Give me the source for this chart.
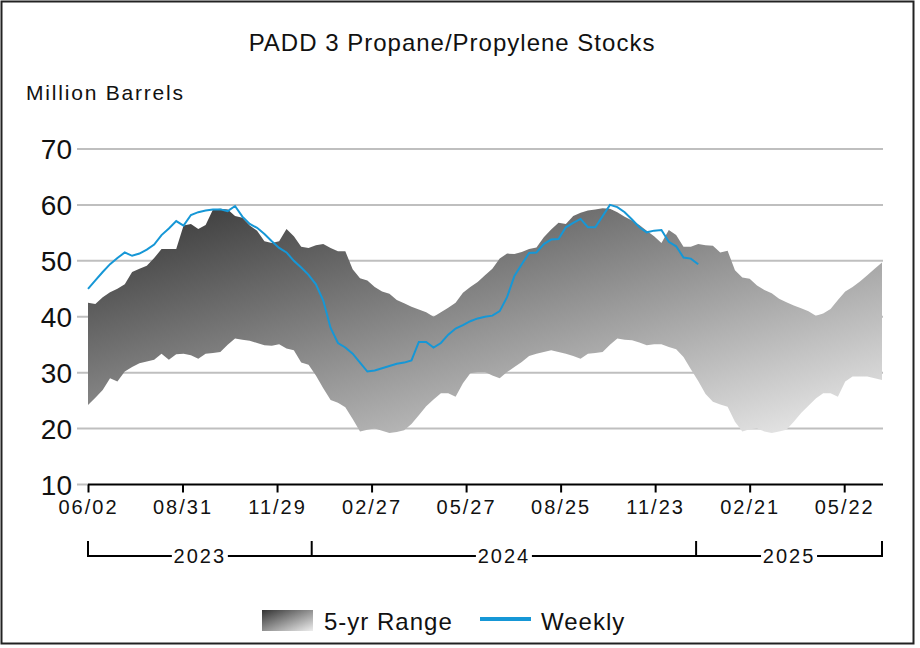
<!DOCTYPE html>
<html>
<head>
<meta charset="utf-8">
<script src="https://cdn.jsdelivr.net/npm/d3@7"></script>
<style>
  html, body { margin: 0; padding: 0; background: #fff; }
  text { font-family: "Liberation Sans", Arial, sans-serif; fill: #111; }
</style>
</head>
<body>
<div id="chart"></div>
<script>
// weekly dates start on this Friday
const firstWeek = "2023-06-02";
const lastWeek = "2025-06-27";

// 5-yr range, upper edge (million barrels), one value per week
const rangeHigh = [
  42.5, 42.3, 43.5, 44.4, 45.0, 45.8, 48.0, 48.6, 49.1, 50.5,
  52.1, 52.1, 52.1, 56.3, 56.6, 55.7, 56.4, 59.2, 59.3, 59.2,
  58.0, 57.7, 56.3, 55.4, 53.5, 53.2, 53.5, 55.7, 54.4, 52.5,
  52.3, 52.8, 53.0, 52.3, 51.7, 51.7, 48.5, 46.9, 46.5, 45.3,
  44.5, 44.1, 43.0, 42.4, 41.8, 41.3, 40.8, 40.0, 40.8, 41.6,
  42.5, 44.3, 45.3, 46.2, 47.4, 48.6, 50.4, 51.3, 51.2, 51.6,
  52.1, 52.4, 54.2, 55.6, 56.8, 56.6, 58.0, 58.6, 59.0, 59.2,
  59.4, 59.3, 58.7, 57.9, 57.2, 56.4, 55.4, 54.4, 53.2, 55.5,
  54.6, 52.5, 52.5, 53.0, 52.8, 52.7, 51.5, 51.8, 48.3, 47.0,
  46.8, 45.6, 44.8, 44.2, 43.2, 42.6, 42.0, 41.5, 41.0, 40.2,
  40.6, 41.4, 43.0, 44.5, 45.3, 46.3, 47.4, 48.6, 49.7
];

// 5-yr range, lower edge
const rangeLow = [
  24.2, 25.5, 26.9, 29.0, 28.4, 30.2, 31.0, 31.7, 32.0, 32.3,
  33.4, 32.3, 33.3, 33.4, 33.1, 32.5, 33.4, 33.5, 33.7, 35.0,
  36.1, 35.9, 35.7, 35.3, 34.9, 34.8, 35.1, 34.3, 34.0, 31.8,
  31.4, 29.5, 27.2, 25.1, 24.6, 23.8, 21.7, 19.5, 19.8, 20.0,
  19.6, 19.2, 19.4, 19.7, 20.8, 22.4, 24.0, 25.2, 26.3, 26.3,
  25.7, 28.1, 29.9, 30.1, 30.1, 29.5, 29.0, 30.1, 31.0, 31.9,
  33.0, 33.4, 33.7, 34.0, 33.7, 33.4, 33.0, 32.5, 33.4, 33.5,
  33.7, 35.0, 36.1, 35.9, 35.8, 35.4, 34.9, 35.1, 35.1, 34.6,
  34.2, 32.8, 30.6, 28.5, 26.2, 24.8, 24.3, 23.9, 21.2, 19.5,
  19.9, 20.0, 19.5, 19.2, 19.5, 19.8, 21.2, 22.8, 24.1, 25.4,
  26.3, 26.3, 25.7, 28.4, 29.3, 29.3, 29.3, 29.0, 28.7
];

// weekly stocks, 2023-06-02 .. 2025-01-03
const weekly = [
  45.0, 46.5, 48.0, 49.4, 50.5, 51.5, 50.9, 51.3, 52.0, 52.9,
  54.6, 55.8, 57.1, 56.3, 58.2, 58.7, 59.0, 59.2, 59.2, 58.9,
  59.8, 57.9, 56.6, 55.9, 54.8, 53.5, 52.3, 51.5, 50.0, 48.8,
  47.5, 45.8, 42.9, 38.0, 35.3, 34.5, 33.4, 31.8, 30.2, 30.4,
  30.8, 31.2, 31.6, 31.8, 32.2, 35.5, 35.5, 34.5, 35.3, 36.8,
  37.9, 38.5, 39.2, 39.7, 40.0, 40.2, 41.0, 43.5, 47.3, 49.4,
  51.4, 51.5, 53.0, 53.8, 53.9, 56.0, 56.8, 57.5, 56.0, 56.0,
  58.0, 60.0, 59.6, 58.7, 57.4, 56.0, 55.1, 55.4, 55.5, 53.4,
  52.6, 50.6, 50.4, 49.4
];

const yTicks = [10, 20, 30, 40, 50, 60, 70];
const xTicks = [
  "2023-06-02", "2023-08-31", "2023-11-29", "2024-02-27", "2024-05-27",
  "2024-08-25", "2024-11-23", "2025-02-21", "2025-05-22"
];
const yearBounds = ["2023-06-02", "2024-01-01", "2025-01-01", "2025-06-27"];
const yearLabels = ["2023", "2024", "2025"];

const W = 920, H = 648;
const plot = { left: 88, right: 882, top: 149, bottom: 484.5 };

const parse = d3.timeParse("%Y-%m-%d");
const fmt = d3.timeFormat("%m/%d");
const start = parse(firstWeek);
const weekDate = (i) => d3.timeDay.offset(start, 7 * i);

const svg = d3
  .select("#chart")
  .append("svg")
  .attr("width", W)
  .attr("height", H);

const x = d3
  .scaleTime()
  .domain([start, parse(lastWeek)])
  .range([plot.left, plot.right]);

const y = d3
  .scaleLinear()
  .domain([10, 70])
  .range([plot.bottom, plot.top]);

// frame
svg
  .append("rect")
  .attr("x", 1.5)
  .attr("y", 1.5)
  .attr("width", 912)
  .attr("height", 642)
  .attr("fill", "#fff")
  .attr("stroke", "#222")
  .attr("stroke-width", 2);

const grad = svg
  .append("defs")
  .append("linearGradient")
  .attr("id", "rangeFill")
  .attr("x1", 0)
  .attr("y1", 0)
  .attr("x2", 1)
  .attr("y2", 1);
grad.append("stop").attr("offset", 0).attr("stop-color", "#333");
grad.append("stop").attr("offset", 1).attr("stop-color", "#eee");

svg
  .append("text")
  .attr("x", 452)
  .attr("y", 51)
  .attr("text-anchor", "middle")
  .attr("font-size", 24)
  .attr("letter-spacing", 1)
  .text("PADD 3 Propane/Propylene Stocks");

svg
  .append("text")
  .attr("x", 26)
  .attr("y", 100)
  .attr("font-size", 21)
  .attr("letter-spacing", 1.8)
  .text("Million Barrels");

// horizontal grid
svg
  .append("g")
  .selectAll("line")
  .data(yTicks.filter((d) => d > 10))
  .enter()
  .append("line")
  .attr("x1", 77)
  .attr("x2", plot.right + 1)
  .attr("y1", (d) => y(d))
  .attr("y2", (d) => y(d))
  .attr("stroke", "#bfbfbf")
  .attr("stroke-width", 2);

svg
  .append("line")
  .attr("x1", 77)
  .attr("x2", plot.left)
  .attr("y1", y(10))
  .attr("y2", y(10))
  .attr("stroke", "#bfbfbf")
  .attr("stroke-width", 2);

svg
  .append("g")
  .selectAll("text")
  .data(yTicks)
  .enter()
  .append("text")
  .attr("x", 72)
  .attr("y", (d) => y(d))
  .attr("dy", "0.36em")
  .attr("text-anchor", "end")
  .attr("font-size", 28)
  .text((d) => d);

// 5-yr range band
const band = rangeHigh.map((hi, i) => ({
  date: weekDate(i),
  hi: hi,
  lo: rangeLow[i],
}));

const rangeArea = d3
  .area()
  .x((d) => x(d.date))
  .y0((d) => y(d.lo))
  .y1((d) => y(d.hi));

svg
  .append("path")
  .datum(band)
  .attr("d", rangeArea)
  .attr("fill", "url(#rangeFill)");

const weeklyLine = d3
  .line()
  .x((d, i) => x(weekDate(i)))
  .y((d) => y(d));

svg
  .append("path")
  .datum(weekly)
  .attr("d", weeklyLine)
  .attr("fill", "none")
  .attr("stroke", "#1697d6")
  .attr("stroke-width", 2);

// x axis
const xAxis = svg
  .append("g")
  .attr("transform", "translate(0," + plot.bottom + ")")
  .call(
    d3
      .axisBottom(x)
      .tickValues(xTicks.map(parse))
      .tickFormat(fmt)
      .tickSize(8)
      .tickSizeOuter(0),
  );
xAxis
  .select(".domain")
  .attr("stroke", "#000")
  .attr("stroke-width", 2)
  .attr("d", "M" + plot.left + ",0H" + (plot.right + 1));
xAxis.selectAll(".tick line").attr("stroke", "#000").attr("stroke-width", 2);
xAxis
  .selectAll(".tick text")
  .attr("y", 29)
  .attr("dy", 0)
  .attr("font-size", 20)
  .attr("letter-spacing", 2)
  .attr("font-family", null)
  .attr("fill", "#111");
xAxis.attr("font-family", null).attr("font-size", null);

// year brackets
const bracketY = 556;
svg
  .append("line")
  .attr("x1", x(parse(yearBounds[0])))
  .attr("x2", x(parse(yearBounds[yearBounds.length - 1])))
  .attr("y1", bracketY)
  .attr("y2", bracketY)
  .attr("stroke", "#000")
  .attr("stroke-width", 2);

svg
  .append("g")
  .selectAll("line")
  .data(yearBounds)
  .enter()
  .append("line")
  .attr("x1", (d) => x(parse(d)))
  .attr("x2", (d) => x(parse(d)))
  .attr("y1", bracketY - 15)
  .attr("y2", bracketY + 1)
  .attr("stroke", "#000")
  .attr("stroke-width", 2);

const yearG = svg
  .append("g")
  .selectAll("g")
  .data(yearLabels)
  .enter()
  .append("g")
  .attr("transform", function (d, i) {
    const cx = (x(parse(yearBounds[i])) + x(parse(yearBounds[i + 1]))) / 2;
    return "translate(" + cx + "," + bracketY + ")";
  });
yearG
  .append("rect")
  .attr("x", -28)
  .attr("y", -6)
  .attr("width", 56)
  .attr("height", 12)
  .attr("fill", "#fff");
yearG
  .append("text")
  .attr("y", 7)
  .attr("text-anchor", "middle")
  .attr("font-size", 20)
  .attr("letter-spacing", 2)
  .text((d) => d);

// legend
svg
  .append("rect")
  .attr("x", 262)
  .attr("y", 610)
  .attr("width", 51)
  .attr("height", 21)
  .attr("fill", "url(#rangeFill)");
svg
  .append("text")
  .attr("x", 324)
  .attr("y", 630)
  .attr("font-size", 24)
  .attr("letter-spacing", 1)
  .text("5-yr Range");
svg
  .append("line")
  .attr("x1", 480)
  .attr("x2", 531)
  .attr("y1", 619)
  .attr("y2", 619)
  .attr("stroke", "#1697d6")
  .attr("stroke-width", 4);
svg
  .append("text")
  .attr("x", 541)
  .attr("y", 630)
  .attr("font-size", 24)
  .attr("letter-spacing", 1)
  .text("Weekly");
</script>
</body>
</html>
